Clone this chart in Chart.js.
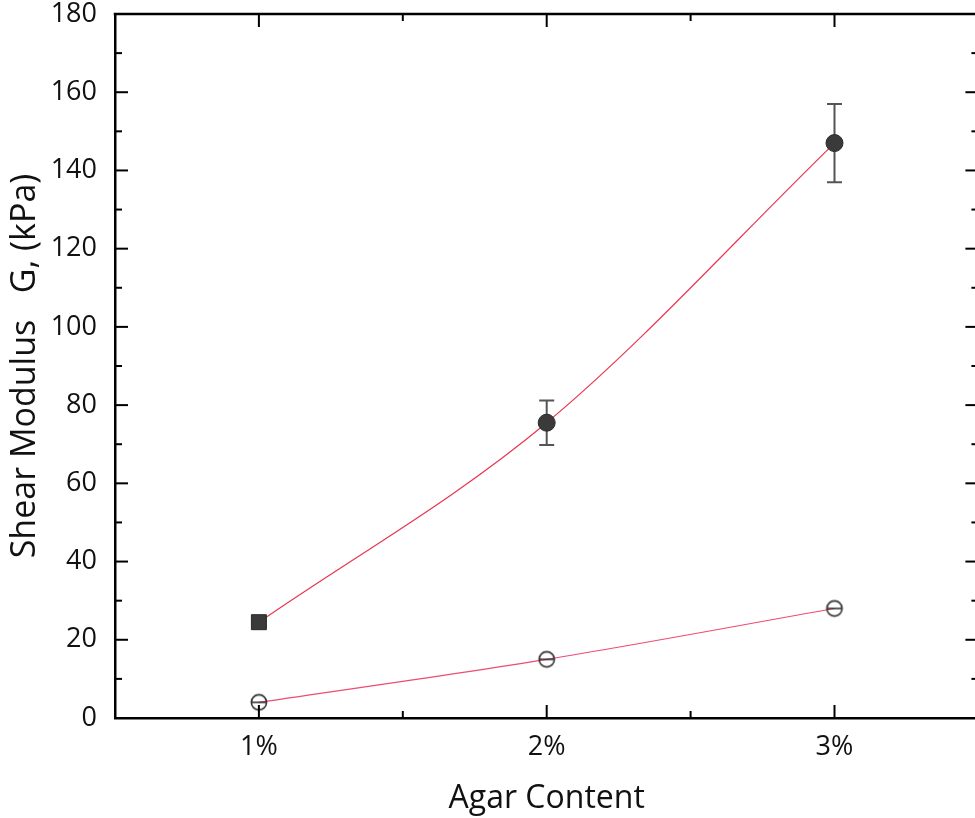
<!DOCTYPE html>
<html>
<head>
<meta charset="utf-8">
<script src="https://cdn.jsdelivr.net/npm/chart.js@4/dist/chart.umd.min.js"></script>
<style>
  html, body { margin: 0; padding: 0; background: #fff; overflow: hidden; }
  #wrap { width: 990px; height: 818px; }
</style>
</head>
<body>
<div id="wrap"><canvas id="chart" width="990" height="818"></canvas></div>
<script>
// Agar concentration categories
const agarContent = ['1%', '2%', '3%'];
// Shear modulus G (kPa), upper series (filled markers) with ± error
const shearModulusUpper = [24.5, 75.5, 147];
const upperError = [0, 5.7, 10];
// Shear modulus G (kPa), lower series (hollow markers)
const shearModulusLower = [4, 15, 28];
// Labelled y ticks
const yTickValues = [0, 20, 40, 60, 80, 100, 120, 140, 160, 180];

const FONT = "'Open Sans', 'DejaVu Sans', sans-serif";

// Hollow circle with a horizontal bar through it
function hollowMarker() {
  const s = 20, r = 7.6;
  const cv = document.createElement('canvas');
  cv.width = s; cv.height = s;
  const g = cv.getContext('2d');
  g.strokeStyle = '#333';
  g.lineWidth = 1.6;
  g.beginPath(); g.arc(s / 2, s / 2, r, 0, Math.PI * 2); g.stroke();
  g.beginPath(); g.moveTo(s / 2 - r, s / 2); g.lineTo(s / 2 + r, s / 2); g.stroke();
  return cv;
}

// Error bars, closed frame and inward tick marks on all four sides
const frameAndTicks = {
  id: 'frameAndTicks',
  beforeDatasetsDraw(chart) {
    const { ctx, scales: { x, y } } = chart;
    ctx.save();
    ctx.strokeStyle = '#555';
    ctx.lineWidth = 2;
    shearModulusUpper.forEach((v, i) => {
      const e = upperError[i];
      if (!e) return;
      const px = x.getPixelForValue(i);
      const top = y.getPixelForValue(v + e);
      const bot = y.getPixelForValue(v - e);
      ctx.beginPath();
      ctx.moveTo(px, top); ctx.lineTo(px, bot);
      ctx.moveTo(px - 7.5, top); ctx.lineTo(px + 7.5, top);
      ctx.moveTo(px - 7.5, bot); ctx.lineTo(px + 7.5, bot);
      ctx.stroke();
    });
    ctx.restore();
  },
  afterDraw(chart) {
    const { ctx, chartArea: a, scales: { x, y } } = chart;
    ctx.save();
    ctx.strokeStyle = '#000';
    ctx.lineCap = 'square';
    ctx.lineWidth = 2.5;
    ctx.beginPath();
    ctx.moveTo(a.left, a.top); ctx.lineTo(a.right, a.top); ctx.lineTo(a.right, a.bottom);
    ctx.stroke();
    ctx.lineCap = 'butt';
    ctx.lineWidth = 2;
    const seg = (x1, y1, x2, y2) => { ctx.beginPath(); ctx.moveTo(x1, y1); ctx.lineTo(x2, y2); ctx.stroke(); };
    const major = 13, minor = 7;
    yTickValues.forEach((v, i) => {
      const py = y.getPixelForValue(v);
      seg(a.left, py, a.left + major, py);
      seg(a.right, py, a.right - major, py);
      if (i < yTickValues.length - 1) {
        const pm = y.getPixelForValue((v + yTickValues[i + 1]) / 2);
        seg(a.left, pm, a.left + minor, pm);
        seg(a.right, pm, a.right - minor, pm);
      }
    });
    agarContent.forEach((_, i) => {
      const px = x.getPixelForValue(i);
      seg(px, a.bottom, px, a.bottom - major);
      seg(px, a.top, px, a.top + major);
      if (i < agarContent.length - 1) {
        const pm = x.getPixelForValue(i + 0.5);
        seg(pm, a.bottom, pm, a.bottom - minor);
        seg(pm, a.top, pm, a.top + minor);
      }
    });
    ctx.restore();
  }
};

new Chart(document.getElementById('chart'), {
  type: 'line',
  data: {
    labels: agarContent,
    datasets: [
      {
        data: shearModulusUpper,
        borderColor: '#e8384f',
        borderWidth: 1.2,
        cubicInterpolationMode: 'monotone',
        pointStyle: ['rect', 'circle', 'circle'],
        pointRadius: [10.6, 8.5, 8.5],
        pointBackgroundColor: '#3a3a3a',
        pointBorderColor: '#2a2a2a',
        pointBorderWidth: 1
      },
      {
        data: shearModulusLower,
        borderColor: '#ee4c72',
        borderWidth: 1.2,
        cubicInterpolationMode: 'monotone',
        pointStyle: hollowMarker(),
        pointRadius: 8
      }
    ]
  },
  options: {
    responsive: false,
    animation: false,
    layout: { padding: { top: 14, right: 11, left: 0, bottom: 0 } },
    plugins: { legend: { display: false }, tooltip: { enabled: false } },
    scales: {
      x: {
        type: 'category',
        offset: true,
        grid: { display: false, drawTicks: false },
        border: { display: true, color: '#000', width: 2.5 },
        ticks: { color: '#111', font: { family: FONT, size: 27 }, padding: 13 },
        title: {
          display: true, text: 'Agar Content', color: '#111',
          font: { family: FONT, size: 32 }, padding: { top: 0, bottom: 0 }
        },
        afterFit(scale) { scale.height = 100; scale.paddingLeft = 0; scale.paddingRight = 0; }
      },
      y: {
        min: 0, max: 180,
        grid: { display: false, drawTicks: false },
        border: { display: true, color: '#000', width: 2.5 },
        ticks: { color: '#111', font: { family: FONT, size: 27 }, padding: 18 },
        afterBuildTicks(scale) { scale.ticks = yTickValues.map(v => ({ value: v })); },
        title: {
          display: true, text: 'Shear Modulus   G, (kPa)', color: '#111',
          font: { family: FONT, size: 34 }, padding: { top: 5, bottom: 0 }
        },
        afterFit(scale) { scale.width = 115; scale.paddingTop = 0; scale.paddingBottom = 0; }
      }
    }
  },
  plugins: [frameAndTicks]
});
</script>
</body>
</html>
